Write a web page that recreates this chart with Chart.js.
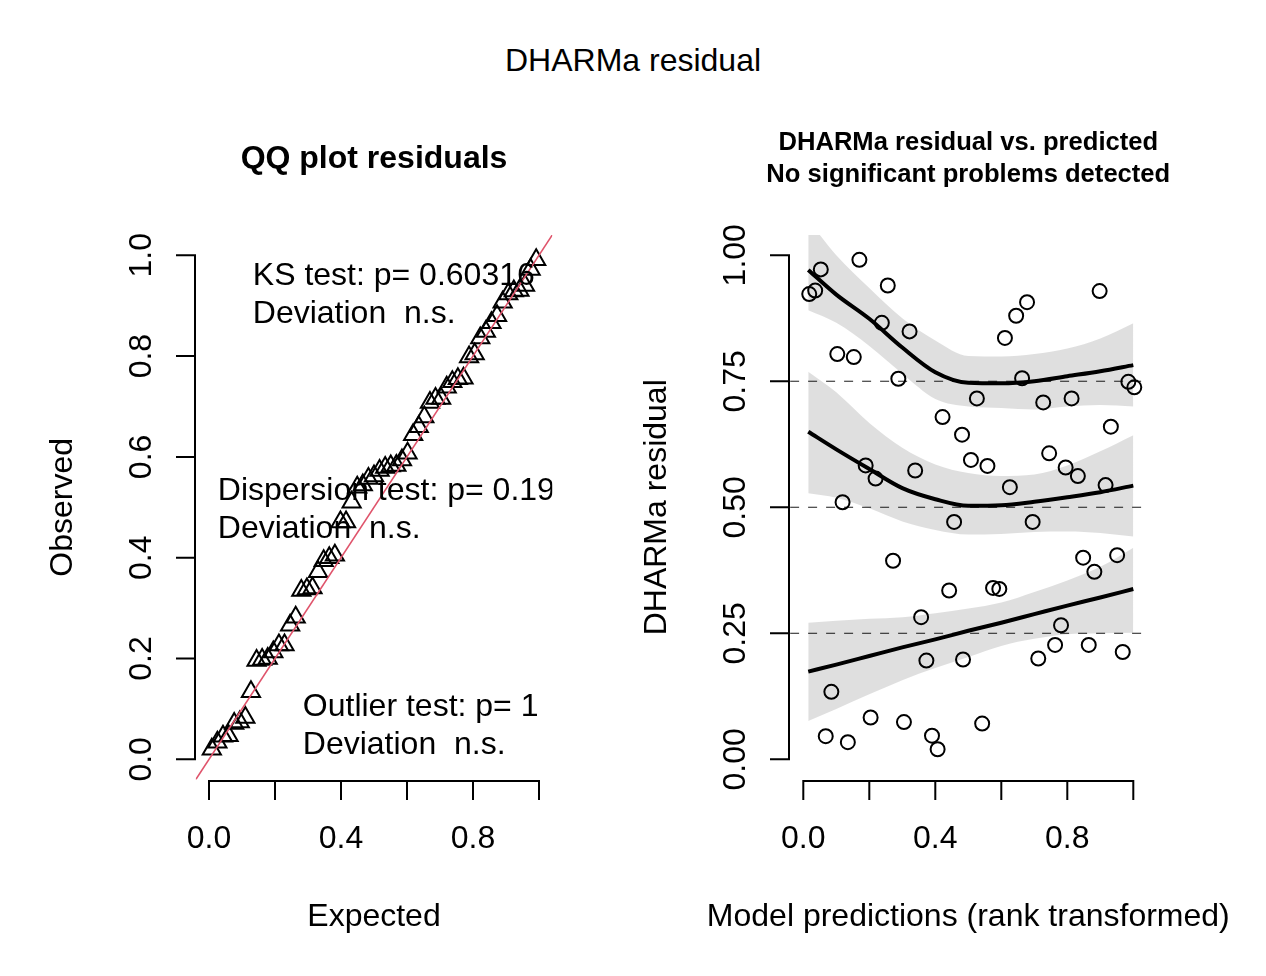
<!DOCTYPE html>
<html><head><meta charset="utf-8">
<script src="https://cdn.jsdelivr.net/npm/chart.js@4.4.1/dist/chart.umd.min.js"></script>
<style>
html,body{margin:0;padding:0;background:#fff;}
#wrap{position:relative;width:1266px;height:976px;overflow:hidden;background:#fff;}
#main{position:absolute;left:0;top:42px;width:1266px;height:40px;line-height:40px;text-align:center;font:32px "Liberation Sans",Arial,Helvetica,sans-serif;color:#000;}
canvas{position:absolute;top:0;}
</style></head><body>
<div id="wrap">
<div id="main">DHARMa residual</div>
<canvas id="qq" width="633" height="976" style="left:0;width:633px;height:976px"></canvas>
<canvas id="res" width="633" height="976" style="left:633px;width:633px;height:976px"></canvas>
</div>
<script>
// ---------------- data ----------------
const qqExpected = [0.0085,0.0254,0.0424,0.0593,0.0763,0.0932,0.1102,0.1271,0.1441,0.1610,
  0.1780,0.1949,0.2119,0.2288,0.2458,0.2627,0.2797,0.2966,0.3136,0.3305,
  0.3475,0.3644,0.3814,0.3983,0.4153,0.4322,0.4492,0.4661,0.4831,0.5000,
  0.5169,0.5339,0.5508,0.5678,0.5847,0.6017,0.6186,0.6356,0.6525,0.6695,
  0.6864,0.7034,0.7203,0.7373,0.7542,0.7712,0.7881,0.8051,0.8220,0.8390,
  0.8559,0.8729,0.8898,0.9068,0.9237,0.9407,0.9576,0.9746,0.9915];
const qqObserved = [0.020,0.034,0.046,0.047,0.071,0.074,0.083,0.134,0.196,0.198,
  0.200,0.213,0.227,0.227,0.266,0.282,0.335,0.338,0.340,0.372,
  0.394,0.400,0.405,0.471,0.471,0.510,0.540,0.544,0.557,0.562,
  0.573,0.579,0.582,0.583,0.594,0.607,0.644,0.660,0.679,0.708,
  0.716,0.716,0.738,0.749,0.755,0.756,0.798,0.804,0.836,0.849,
  0.866,0.880,0.907,0.923,0.929,0.930,0.940,0.972,0.991];
const qqRefLine = [-0.1, 1.1];

const predRank = [0.018,0.036,0.053,0.170,0.256,0.238,0.322,0.103,0.153,0.288,
  0.611,0.645,0.678,0.898,0.663,0.526,0.727,0.813,0.985,1.003,
  0.422,0.481,0.932,0.508,0.558,0.745,0.795,0.832,0.916,0.189,
  0.219,0.339,0.626,0.119,0.457,0.695,0.272,0.442,0.575,0.594,
  0.848,0.882,0.951,0.357,0.781,0.763,0.865,0.968,0.712,0.373,
  0.484,0.085,0.204,0.305,0.542,0.068,0.135,0.390,0.407];
const residual = [0.923,0.930,0.972,0.991,0.940,0.866,0.849,0.804,0.798,0.755,
  0.836,0.880,0.907,0.929,0.756,0.716,0.708,0.716,0.749,0.738,
  0.679,0.644,0.660,0.594,0.582,0.607,0.579,0.562,0.544,0.583,
  0.557,0.573,0.540,0.510,0.471,0.471,0.394,0.335,0.340,0.338,
  0.400,0.372,0.405,0.282,0.266,0.227,0.227,0.213,0.200,0.196,
  0.198,0.134,0.083,0.074,0.071,0.046,0.034,0.047,0.020];

const curveX = [0.015,0.1,0.2,0.3,0.4,0.5,0.6,0.7,0.8,0.9,1.0];
const q75   = [0.971,0.922,0.874,0.817,0.768,0.747,0.746,0.750,0.760,0.770,0.782];
const q75Hi = [1.070,1.000,0.935,0.875,0.831,0.800,0.799,0.804,0.815,0.835,0.865];
const q75Lo = [0.891,0.866,0.820,0.765,0.715,0.700,0.697,0.694,0.700,0.703,0.700];
const q50   = [0.650,0.615,0.576,0.538,0.516,0.503,0.504,0.511,0.520,0.530,0.543];
const q50Hi = [0.769,0.728,0.667,0.618,0.585,0.568,0.562,0.565,0.583,0.611,0.643];
const q50Lo = [0.528,0.519,0.498,0.472,0.455,0.446,0.447,0.451,0.452,0.449,0.442];
const q25   = [0.174,0.188,0.205,0.222,0.238,0.255,0.271,0.288,0.305,0.321,0.338];
const q25Hi = [0.271,0.275,0.279,0.282,0.290,0.299,0.311,0.332,0.355,0.382,0.420];
const q25Lo = [0.076,0.100,0.129,0.157,0.181,0.203,0.225,0.239,0.248,0.250,0.251];
const refLevels = [0.25, 0.5, 0.75];

const qqXTicks = [0,0.2,0.4,0.6,0.8,1.0];
const qqXTickLabels = ['0.0','','0.4','','0.8',''];
const qqYTicks = [0,0.2,0.4,0.6,0.8,1.0];
const qqYTickLabels = ['0.0','0.2','0.4','0.6','0.8','1.0'];
const resXTicks = [0,0.2,0.4,0.6,0.8,1.0];
const resXTickLabels = ['0.0','','0.4','','0.8',''];
const resYTicks = [0,0.25,0.5,0.75,1.0];
const resYTickLabels = ['0.00','0.25','0.50','0.75','1.00'];

const qqTestText = [
  ['KS test: p= 0.60316', 'Deviation  n.s.'],
  ['Dispersion test: p= 0.19', 'Deviation  n.s.'],
  ['Outlier test: p= 1', 'Deviation  n.s.']
];

// ---------------- drawing ----------------
const FAM = '"Liberation Sans", Arial, Helvetica, sans-serif';
const RANGE = {min: -0.04, max: 1.04};
const TICK = 19, LAB = 58, TITLE = 135, DY = 2;

function pts(xs, ys) { return xs.map((x, i) => ({x: x, y: ys[i]})); }

function rAxes(cfg) {
  return {
    id: 'rAxes',
    afterDraw(chart) {
      const ctx = chart.ctx, a = chart.chartArea, sx = chart.scales.x, sy = chart.scales.y;
      ctx.save();
      ctx.strokeStyle = '#000'; ctx.fillStyle = '#000'; ctx.lineWidth = 2; ctx.lineCap = 'butt';
      ctx.beginPath();
      const bx = Math.round(a.bottom) + 1;
      ctx.moveTo(sx.getPixelForValue(cfg.xTicks[0]) - 1, bx);
      ctx.lineTo(sx.getPixelForValue(cfg.xTicks[cfg.xTicks.length - 1]) + 1, bx);
      cfg.xTicks.forEach(v => { const p = sx.getPixelForValue(v); ctx.moveTo(p, bx); ctx.lineTo(p, bx + TICK); });
      const lx = Math.round(a.left) - 1;
      ctx.moveTo(lx, sy.getPixelForValue(cfg.yTicks[0]) + 1);
      ctx.lineTo(lx, sy.getPixelForValue(cfg.yTicks[cfg.yTicks.length - 1]) - 1);
      cfg.yTicks.forEach(v => { const p = sy.getPixelForValue(v); ctx.moveTo(lx, p); ctx.lineTo(lx - TICK, p); });
      ctx.stroke();

      ctx.font = '32px ' + FAM; ctx.textAlign = 'center'; ctx.textBaseline = 'middle';
      cfg.xTicks.forEach((v, i) => { if (cfg.xLabels[i]) ctx.fillText(cfg.xLabels[i], sx.getPixelForValue(v), a.bottom + LAB + DY); });
      cfg.yTicks.forEach((v, i) => {
        ctx.save(); ctx.translate(a.left - LAB + 4, sy.getPixelForValue(v)); ctx.rotate(-Math.PI / 2);
        ctx.fillText(cfg.yLabels[i], 0, 0); ctx.restore();
      });
      ctx.fillText(cfg.xTitle, (a.left + a.right) / 2, a.bottom + TITLE + 1 + DY);
      ctx.save(); ctx.translate(a.left - TITLE + 2, (a.top + a.bottom) / 2); ctx.rotate(-Math.PI / 2);
      ctx.fillText(cfg.yTitle, 0, 0); ctx.restore();

      ctx.font = 'bold ' + cfg.titleSize + 'px ' + FAM;
      cfg.title.forEach((t, i) => ctx.fillText(t, (a.left + a.right) / 2, cfg.titleY[i] + DY));

      if (cfg.notes) {
        ctx.save();
        ctx.beginPath(); ctx.rect(a.left, a.top, a.right - a.left, a.bottom - a.top); ctx.clip();
        ctx.font = '32px ' + FAM; ctx.textAlign = 'left';
        cfg.notes.forEach((lines, k) => {
          const pos = cfg.notePos[k];
          lines.forEach((t, j) => ctx.fillText(t, a.left + pos[0], a.top + pos[1] + DY + j * 38.4));
        });
        ctx.restore();
      }
      ctx.restore();
    }
  };
}

const baseOpts = (pad) => ({
  responsive: false, animation: false, events: [],
  layout: {padding: pad},
  plugins: {legend: {display: false}, title: {display: false}, tooltip: {enabled: false}},
  scales: {
    x: {type: 'linear', min: RANGE.min, max: RANGE.max, display: false},
    y: {type: 'linear', min: RANGE.min, max: RANGE.max, display: false}
  }
});

// ---- left: QQ plot ----
new Chart(document.getElementById('qq'), {
  type: 'line',
  data: {
    datasets: [
      {data: pts(qqRefLine, qqRefLine), showLine: true, borderColor: '#DF536B', borderWidth: 1.6,
       pointRadius: 0, fill: false, clip: 0, order: 0},
      {data: pts(qqExpected, qqObserved), showLine: false, pointStyle: 'triangle', pointRadius: 10.5,
       pointBorderWidth: 2, pointBorderColor: '#000', pointBackgroundColor: 'rgba(0,0,0,0)', clip: 0, order: 1}
    ]
  },
  options: baseOpts({left: 195.8, right: 80.8, top: 235.1, bottom: 196.5}),
  plugins: [rAxes({
    xTicks: qqXTicks, xLabels: qqXTickLabels, yTicks: qqYTicks, yLabels: qqYTickLabels,
    xTitle: 'Expected', yTitle: 'Observed', title: ['QQ plot residuals'], titleY: [157], titleSize: 32,
    notes: qqTestText, notePos: [[57, 39], [22, 254], [107, 470]]
  })]
});

// ---- right: residual vs predicted ----
const band = (hi, lo) => [
  {data: pts(curveX, hi), showLine: true, borderColor: 'rgba(0,0,0,0)', borderWidth: 0, pointRadius: 0,
   backgroundColor: 'rgba(0,0,0,0.125)', fill: '+1', cubicInterpolationMode: 'monotone', order: 2},
  {data: pts(curveX, lo), showLine: true, borderColor: 'rgba(0,0,0,0)', borderWidth: 0, pointRadius: 0,
   fill: false, cubicInterpolationMode: 'monotone', order: 2}
];
const curve = (ys) => ({data: pts(curveX, ys), showLine: true, borderColor: '#000', borderWidth: 4,
  pointRadius: 0, fill: false, cubicInterpolationMode: 'monotone', order: 0, clip: 0});
const refLine = (lv) => ({data: [{x: RANGE.min, y: lv}, {x: RANGE.max, y: lv}], showLine: true,
  borderColor: 'rgba(0,0,0,0.75)', borderWidth: 1.2, borderDash: [9, 9], pointRadius: 0, fill: false, order: 3, clip: 0});

new Chart(document.getElementById('res'), {
  type: 'line',
  data: {
    datasets: [
      ...refLevels.map(refLine),
      {data: pts(predRank, residual), showLine: false, pointStyle: 'circle', pointRadius: 7,
       pointBorderWidth: 2, pointBorderColor: '#000', pointBackgroundColor: 'rgba(0,0,0,0)', clip: 0, order: 1},
      ...band(q25Hi, q25Lo), curve(q25),
      ...band(q50Hi, q50Lo), curve(q50),
      ...band(q75Hi, q75Lo), curve(q75)
    ]
  },
  options: baseOpts({left: 157.1, right: 119.5, top: 235.1, bottom: 196.5}),
  plugins: [rAxes({
    xTicks: resXTicks, xLabels: resXTickLabels, yTicks: resYTicks, yLabels: resYTickLabels,
    xTitle: 'Model predictions (rank transformed)', yTitle: 'DHARMa residual',
    title: ['DHARMa residual vs. predicted', 'No significant problems detected'], titleY: [141, 173], titleSize: 25.6
  })]
});
</script>
</body></html>
